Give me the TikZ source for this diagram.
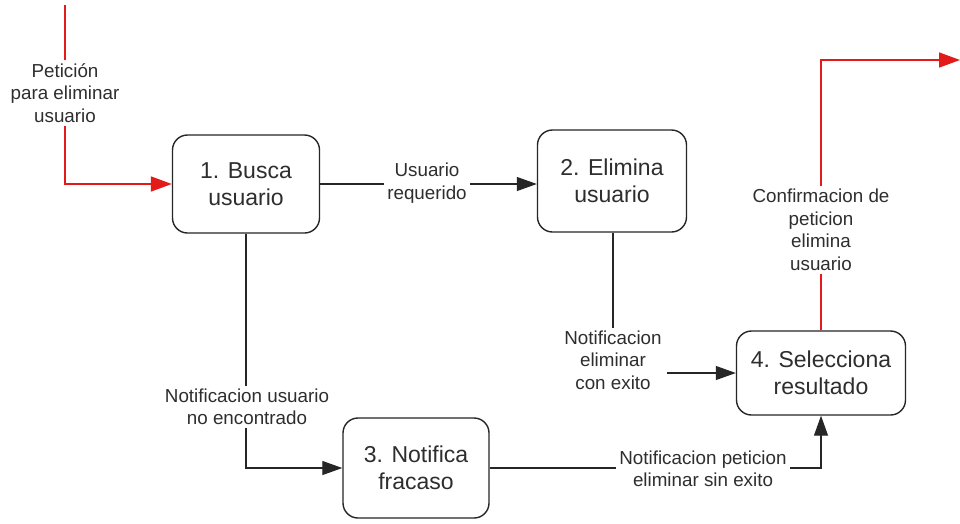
\documentclass[tikz,border=0pt]{standalone}
\usepackage{fontspec}
\setmainfont{Liberation Sans}
\usetikzlibrary{arrows.meta}
\definecolor{txt}{HTML}{2E2E2E}
\definecolor{flowred}{HTML}{E21A1A}
\tikzset{
  proc/.style={draw=black!85, line width=1.4pt, rounded corners=15pt, align=center,
    text=txt, font=\fontsize{23}{27}\selectfont, inner sep=0pt},
  lbl/.style={fill=white, align=center, text=txt, font=\fontsize{18.8}{22.5}\selectfont, inner sep=3pt},
  flow/.style={draw=black!85, line width=1.2pt, -{Triangle[length=20pt,width=14pt]}},
  redflow/.style={draw=flowred, line width=1.6pt, -{Triangle[length=21pt,width=15pt]}},
}
\begin{document}
\begin{tikzpicture}[x=1pt,y=-1pt]
\useasboundingbox (0,0) rectangle (960,523);
\fill[white] (0,0) rectangle (960,523);

\node[proc, minimum width=147pt, minimum height=98pt] (n1) at (246,184) {1. Busca\\usuario};
\node[proc, minimum width=149pt, minimum height=102pt] (n2) at (612,181) {2. Elimina\\usuario};
\node[proc, minimum width=146pt, minimum height=100pt] (n3) at (416,468) {3. Notifica\\fracaso};
\node[proc, minimum width=169pt, minimum height=84pt] (n4) at (821,373) {4. Selecciona\\resultado};

\coordinate (in) at (65,5);
\coordinate (out) at (960,60);

% input request
\draw[redflow] (in) |- (n1.west);
\node[lbl] (lin) at (65,93) {Petición\\para eliminar\\usuario};

% 1 -> 2
\draw[flow] (n1.east) -- (n1.east -| n2.west);
\node[lbl] (l12) at (427,183) {Usuario\\requerido};

% 1 -> 3
\draw[flow] (n1.south) |- (n3.west);
\node[lbl] (l13) at (247,407) {Notificacion usuario\\no encontrado};

% 2 -> 4
\draw[flow] (n2.south -| 613,0) |- (n4.west);
\node[lbl, inner xsep=5pt] (l24) at (613,360) {Notificacion\\eliminar\\con exito};

% 3 -> 4
\draw[flow] (n3.east) -| (n4.south);
\node[lbl] (l34) at (703,469) {Notificacion peticion\\eliminar sin exito};

% output
\draw[redflow] (n4.north) |- (out);
\node[lbl] (lout) at (821,230) {Confirmacion de\\peticion\\elimina\\usuario};
\end{tikzpicture}
\end{document}
